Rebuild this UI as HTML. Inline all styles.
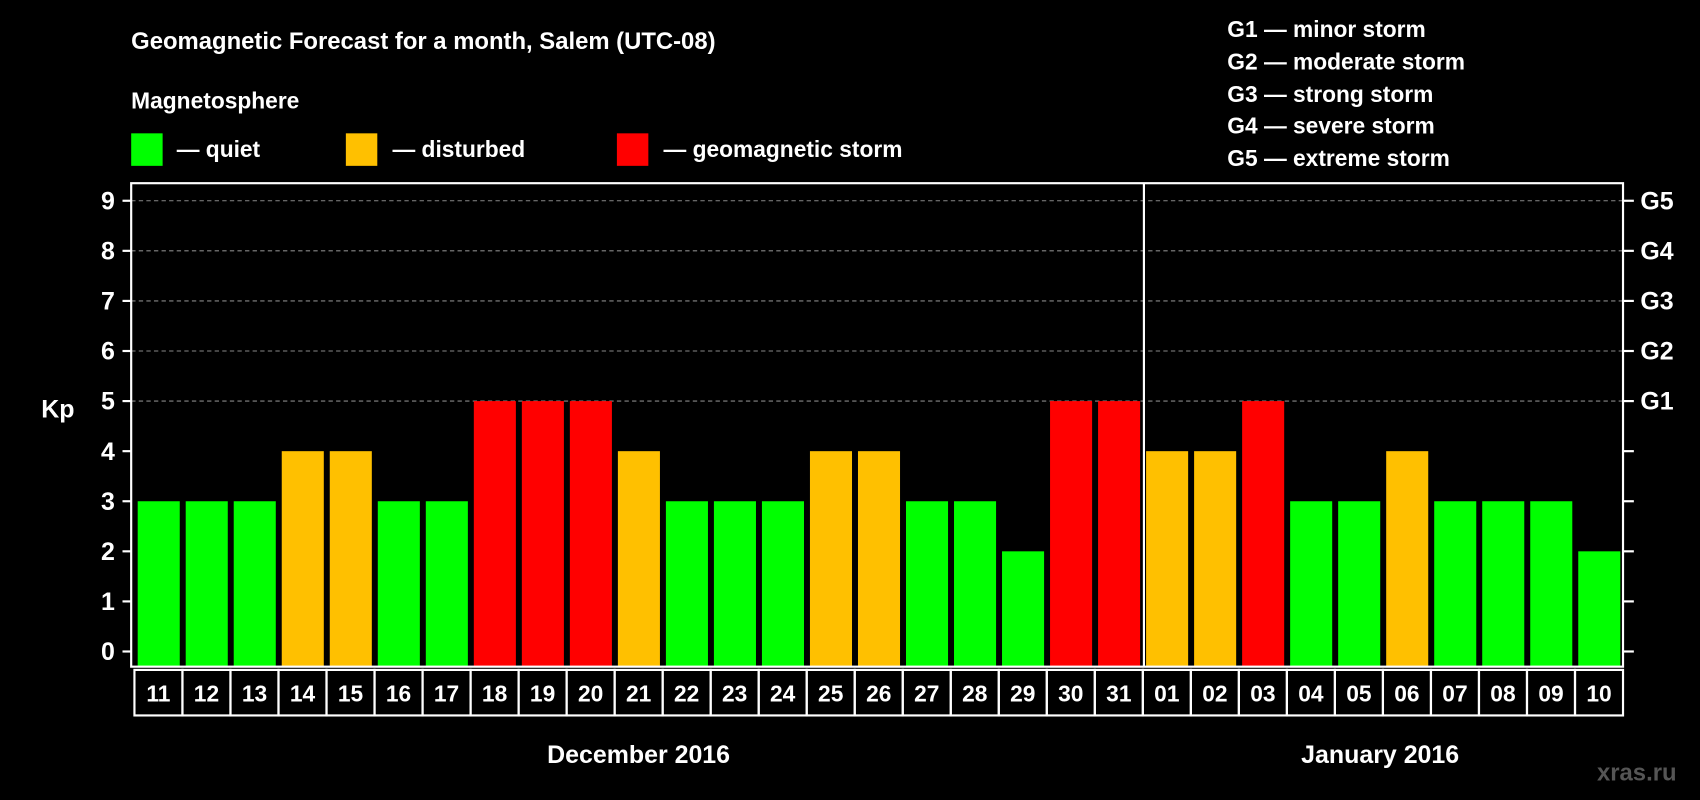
<!DOCTYPE html>
<html><head><meta charset="utf-8"><style>
html,body{margin:0;padding:0;background:#000;}
svg{display:block;font-family:"Liberation Sans",Arial,sans-serif;font-weight:bold;}
</style></head><body>
<svg id="chart" width="1700" height="800" viewBox="0 0 1568 738" preserveAspectRatio="none" xmlns="http://www.w3.org/2000/svg">
<rect x="0" y="0" width="1568" height="738" fill="#000"/>
<text x="121" y="45" fill="#fff" font-size="22">Geomagnetic Forecast for a month, Salem (UTC-08)</text>
<text x="121" y="100" fill="#fff" font-size="21">Magnetosphere</text>
<g><rect x="121" y="123" width="29" height="30" fill="#00ff00"/><text x="163" y="145" fill="#fff" font-size="21">— quiet</text></g>
<g><rect x="319" y="123" width="29" height="30" fill="#ffc000"/><text x="362" y="145" fill="#fff" font-size="21">— disturbed</text></g>
<g><rect x="569" y="123" width="29" height="30" fill="#ff0000"/><text x="612" y="145" fill="#fff" font-size="21">— geomagnetic storm</text></g>
<g fill="#fff" font-size="21">
<text x="1132" y="34">G1 — minor storm</text>
<text x="1132" y="64">G2 — moderate storm</text>
<text x="1132" y="94">G3 — strong storm</text>
<text x="1132" y="123">G4 — severe storm</text>
<text x="1132" y="153">G5 — extreme storm</text>
</g>
<text x="38" y="385" fill="#fff" font-size="23">Kp</text>
<g id="grid"></g>
<g id="bars"></g>
<g id="axes"></g>
<text x="589" y="704" fill="#fff" font-size="23" text-anchor="middle">December 2016</text>
<text x="1273" y="704" fill="#fff" font-size="23" text-anchor="middle">January 2016</text>
<text x="1473" y="720" fill="#555" font-size="22">xras.ru</text>
</svg>
<script>
const days = ["11","12","13","14","15","16","17","18","19","20","21","22","23","24","25","26","27","28","29","30","31","01","02","03","04","05","06","07","08","09","10"];
const kpValues = [3,3,3,4,4,3,3,5,5,5,4,3,3,3,4,4,3,3,2,5,5,4,4,5,3,3,4,3,3,3,2];
const yTicks = [0,1,2,3,4,5,6,7,8,9];
const gLabels = ["G1","G2","G3","G4","G5"];
const gLevels = [5,6,7,8,9];
const monthBreakIndex = 21;

const NS = "http://www.w3.org/2000/svg";
const L = 121, R = 1497, T = 169, B = 615;
const y0 = 601, unit = 46.2;
const cellL = 124, pitch = (R - cellL) / days.length;
function yScale(v){ return y0 - v * unit; }
function xCell(i){ return cellL + i * pitch; }
function mk(tag, attrs, parent){ const e = document.createElementNS(NS, tag); for (const k in attrs) e.setAttribute(k, attrs[k]); parent.appendChild(e); return e; }
function color(v){ return v >= 5 ? "#ff0000" : (v >= 4 ? "#ffc000" : "#00ff00"); }

const grid = document.getElementById("grid"), bars = document.getElementById("bars"), axes = document.getElementById("axes");
yTicks.forEach(t => {
  const y = yScale(t);
  if (t >= 5) {
    const g = mk("line", {x1:L, x2:R, y1:y, y2:y, stroke:"#888", "stroke-width":1, "stroke-dasharray":"4,3"}, grid);
    
    
  }
  const tk = mk("line", {x1:113, x2:L, y1:y, y2:y, stroke:"#fff", "stroke-width":2}, axes);
  
  
  const tr = mk("line", {x1:R, x2:1507, y1:y, y2:y, stroke:"#fff", "stroke-width":2}, axes);
  
  
  const lb = mk("text", {x:106, y:y+8, fill:"#fff", "font-size":23, "text-anchor":"end"}, axes);
  lb.textContent = t;
  
  
});
gLabels.forEach((g, i) => {
  const lb = mk("text", {x:1513, y:yScale(gLevels[i])+8, fill:"#fff", "font-size":23}, axes);
  lb.textContent = g;
  
  
});
kpValues.forEach((v, i) => {
  const x = xCell(i) + 3;
  const r = mk("rect", {x:x, y:yScale(v), width:pitch-5.5, height:B - yScale(v), fill:color(v)}, bars);
  
  
  const c = mk("rect", {x:xCell(i), y:618, width:pitch, height:42, fill:"none", stroke:"#fff", "stroke-width":2}, axes);
  
  
  const t = mk("text", {x:xCell(i)+pitch/2, y:647, fill:"#fff", "font-size":21, "text-anchor":"middle"}, axes);
  t.textContent = days[i];
  
  
});
const fr = mk("rect", {x:L, y:T, width:R-L, height:B-T, fill:"none", stroke:"#fff", "stroke-width":2}, axes);


const sx = xCell(monthBreakIndex) + 1;
const sep = mk("line", {x1:sx, x2:sx, y1:T, y2:B, stroke:"#fff", "stroke-width":2}, axes);


</script>
</body></html>
